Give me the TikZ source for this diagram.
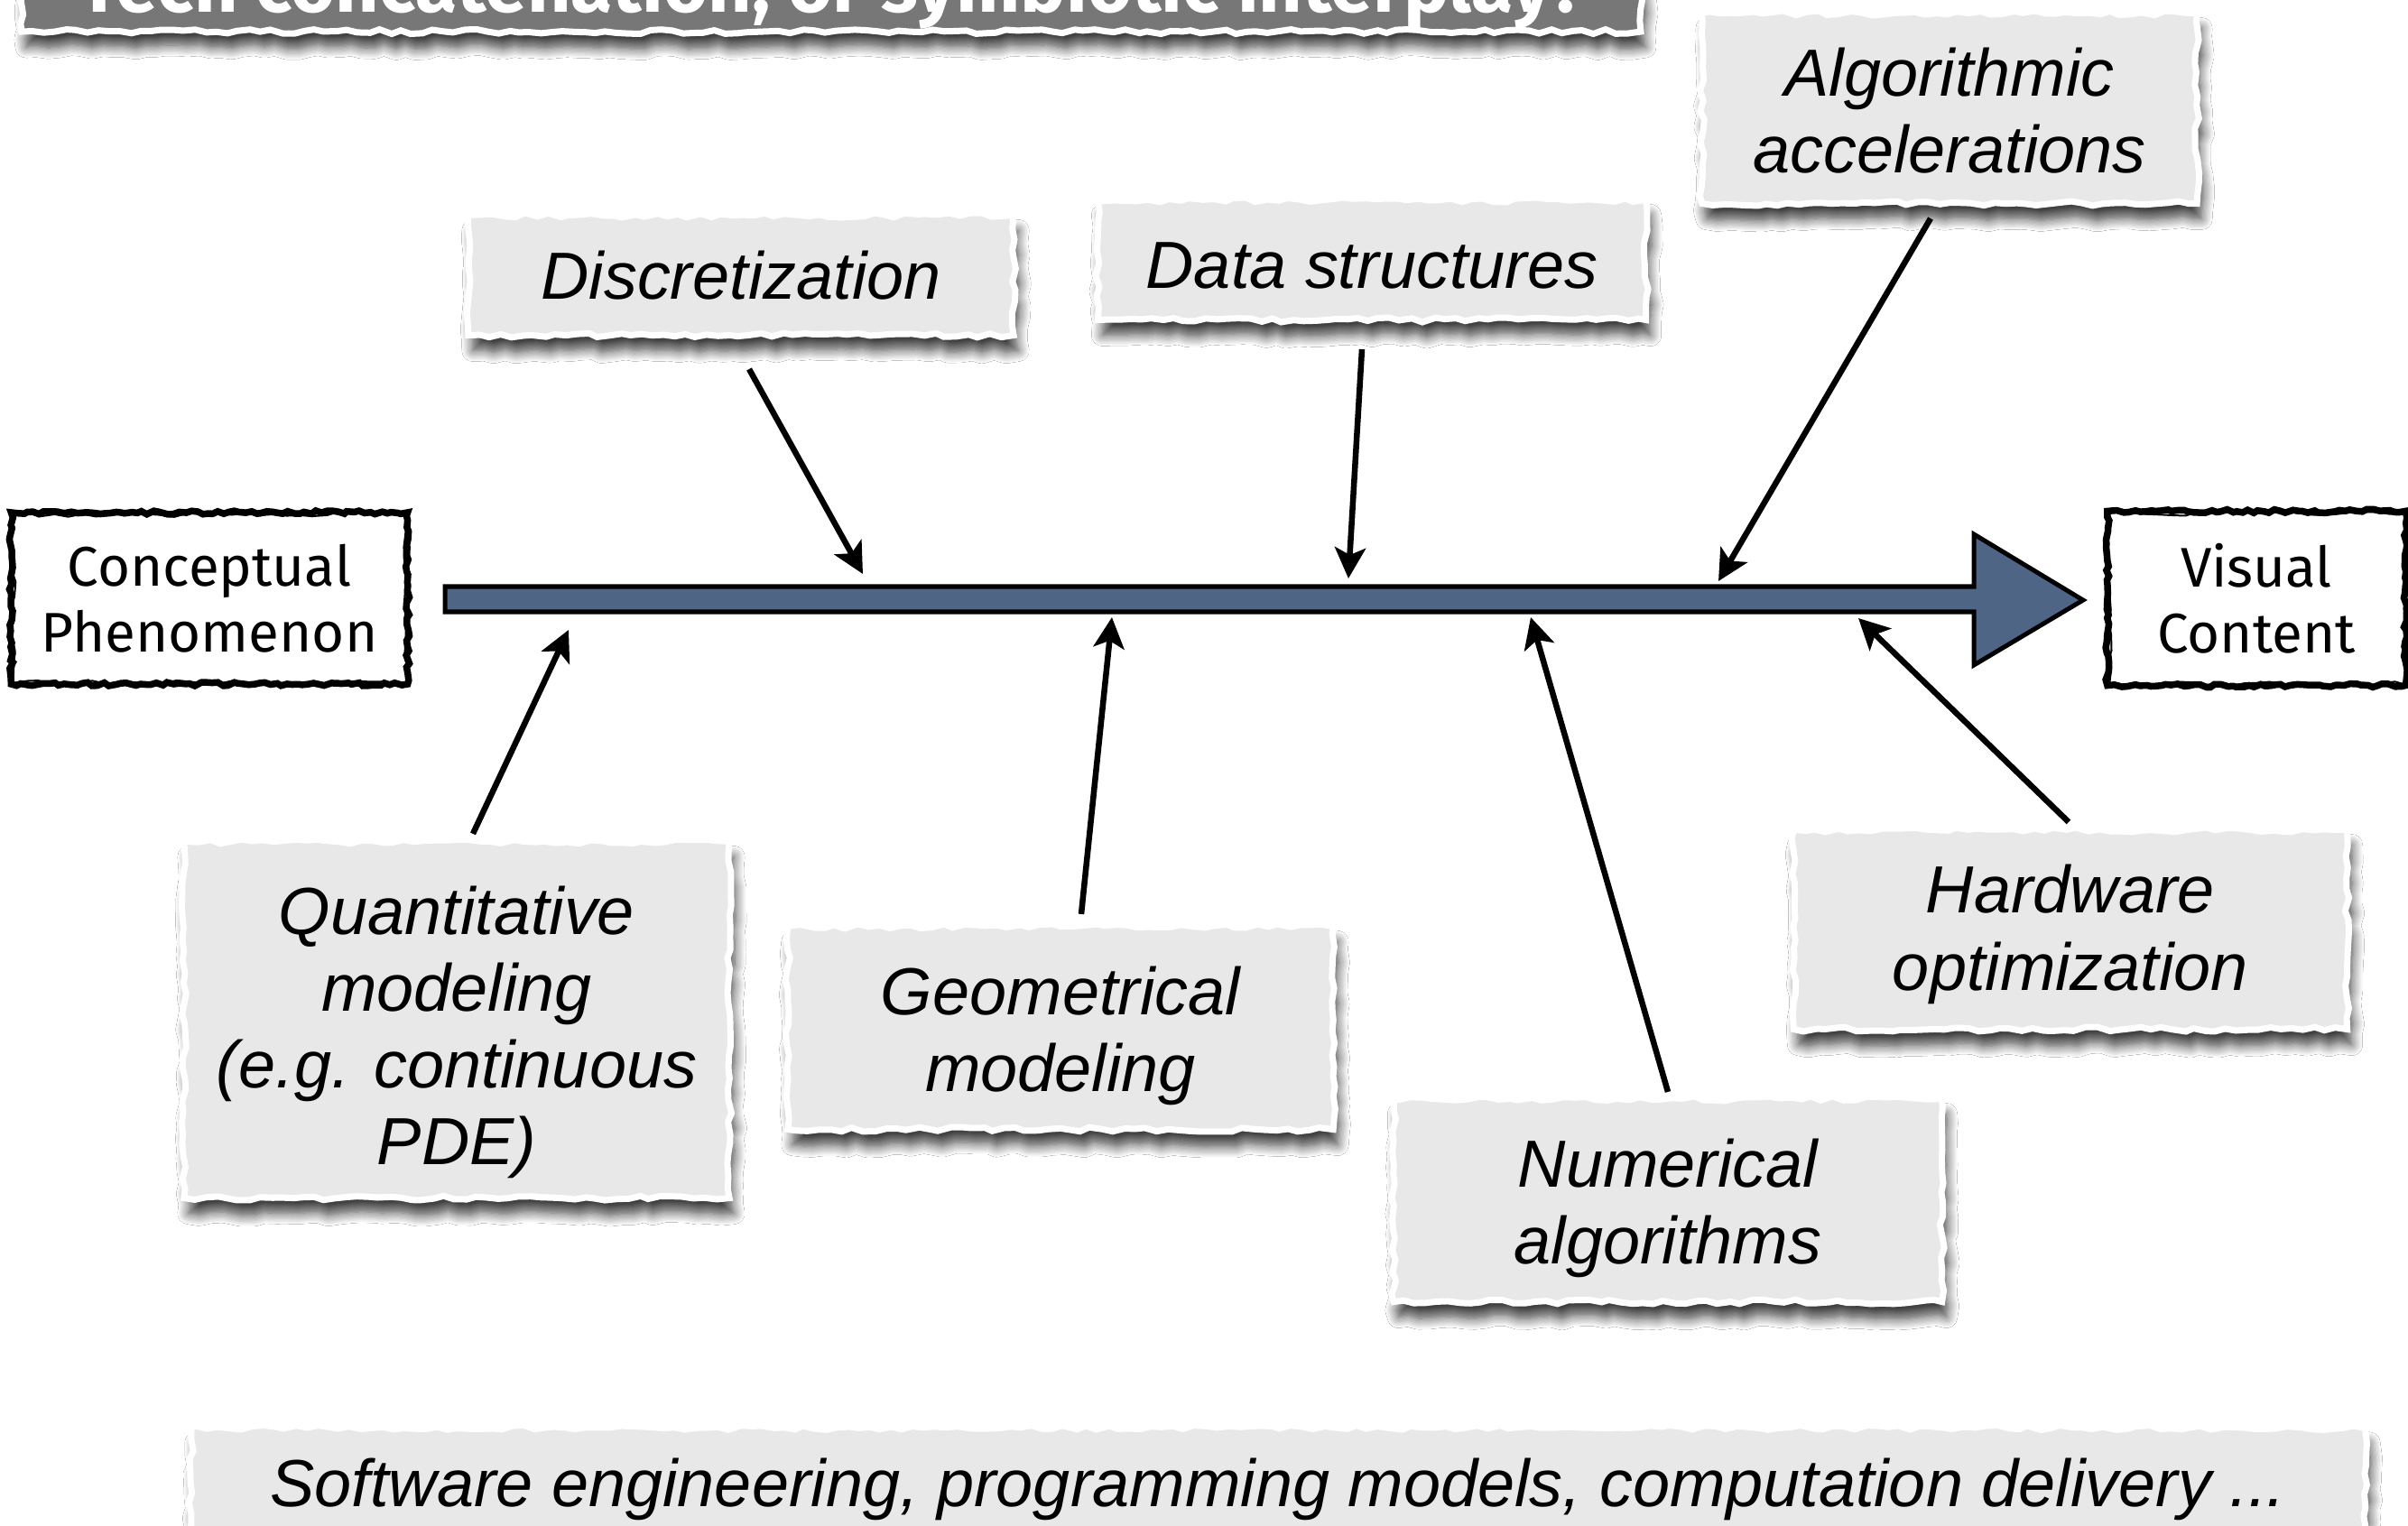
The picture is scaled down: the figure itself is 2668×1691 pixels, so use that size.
\documentclass[tikz,border=0pt]{standalone}
\usepackage{fontspec}
\setmainfont{Liberation Sans}
\newfontfamily\gillfont{Fira Sans}
\usetikzlibrary{arrows.meta,decorations.pathmorphing,shadows.blur,calc}
\definecolor{papergray}{HTML}{E8E8E8}
\definecolor{titlegray}{HTML}{777777}
\definecolor{slate}{HTML}{4F6585}
\newcommand{\topstrut}[1]{\rule{0pt}{#1em}}
\begin{document}
\pgfmathsetseed{7}
\begin{tikzpicture}[x=0.01cm,y=-0.01cm,
  torn/.style={decorate, decoration={random steps,segment length=0.12cm,amplitude=0.025cm}},
  papershadow/.style={blur shadow={shadow xshift=0.05cm, shadow yshift=-0.17cm, shadow opacity=75, shadow blur radius=0.12cm, shadow blur steps=10}},
  paper/.style={torn, papershadow, fill=papergray, draw=white, line width=0.07cm,
    font=\fontsize{21pt}{24.2pt}\selectfont\itshape, align=center, inner sep=0pt},
  sketch/.style={draw=black, line width=0.075cm, fill=white,
    decorate, decoration={random steps,segment length=0.06cm,amplitude=0.02cm},
    font=\gillfont\fontsize{17.6pt}{20.8pt}\selectfont, align=center, inner sep=0pt},
  sketchline/.style={draw=black, line width=0.02cm,
    decorate, decoration={random steps,segment length=0.15cm,amplitude=0.03cm}},
  fb/.style={-{Stealth[length=0.34cm,width=0.34cm,inset=0.08cm]}, line width=0.065cm},
  mainarrow/.style={fill=slate, draw=black, line width=0.05cm, line join=miter}
]
\useasboundingbox (0,0) rectangle (2668,1691);
\fill[white] (0,0) rectangle (2668,1691);

% title (cut off at top, as in the reference)
\node[paper, fill=titlegray, minimum width=17.93cm, minimum height=2cm] (titlebox) at (921,-65) {};
\node[text=white, font=\gillfont\bfseries\fontsize{24pt}{28pt}\selectfont, anchor=base] (title) at (922,14) {Tech concatenation, or symbiotic interplay?};

% end boxes
\node[sketch, minimum width=4.39cm, minimum height=1.9cm] (cp) at (232,663) {Conceptual\\Phenomenon};
\draw[sketchline] ($(cp.north west)+(6,6)$) rectangle ($(cp.south east)+(-5,-5)$);
\node[sketch, minimum width=3.3cm, minimum height=1.93cm] (vc) at (2500,663) {Visual\\Content};
\draw[sketchline] ($(vc.north west)+(6,6)$) rectangle ($(vc.south east)+(-5,-5)$);

% main arrow
\draw[mainarrow] (493,650) -- (2187,650) -- (2187,592) -- (2308,665) -- (2187,737) -- (2187,678) -- (493,678) -- cycle;

% factor boxes
\node[paper, minimum width=6.04cm, minimum height=1.33cm] (disc) at (821,305) {Discretization};
\node[paper, minimum width=6.07cm, minimum height=1.33cm] (data) at (1520,288) {\topstrut{0.85}Data structures};
\node[paper, minimum width=5.48cm, minimum height=2.11cm] (algo) at (2160,120) {\topstrut{0.8}Algorithmic\\accelerations};
\node[paper, minimum width=6.04cm, minimum height=3.95cm] (quant) at (506,1130) {\topstrut{1.1}Quantitative\\modeling\\(e.g. continuous\\PDE)};
\node[paper, minimum width=6.04cm, minimum height=2.25cm] (geom) at (1175,1139) {\topstrut{0.96}Geometrical\\modeling};
\node[paper, minimum width=6.07cm, minimum height=2.25cm] (num) at (1848,1330) {\topstrut{0.96}Numerical\\algorithms};
\node[paper, minimum width=6.13cm, minimum height=2.21cm] (hw) at (2294,1030) {\topstrut{0.87}Hardware\\optimization};
\node[paper, minimum width=24.07cm, minimum height=1.36cm] (sw) at (1416,1650) {Software engineering, programming models, computation delivery ...};

% targets on the main arrow
\coordinate (t1) at (956,636);
\coordinate (t2) at (1494,641);
\coordinate (t3) at (1904,644);
\coordinate (t4) at (630,698);
\coordinate (t5) at (1232,684);
\coordinate (t6) at (1696,684);
\coordinate (t7) at (2059,685);

\draw[fb] ($(disc.south)+(9,34)$) -- (t1);
\draw[fb] ($(data.south)+(-11,29)$) -- (t2);
\draw[fb] ($(algo.south)+(-21,13)$) -- (t3);
\draw[fb] ($(quant.north)+(18,-5)$) -- (t4);
\draw[fb] ($(geom.north)+(23,-10)$) -- (t5);
\draw[fb] ($(num.north)+(0,-4)$) -- (t6);
\draw[fb] ($(hw.north)+(-2,-5)$) -- (t7);
\end{tikzpicture}
\end{document}
